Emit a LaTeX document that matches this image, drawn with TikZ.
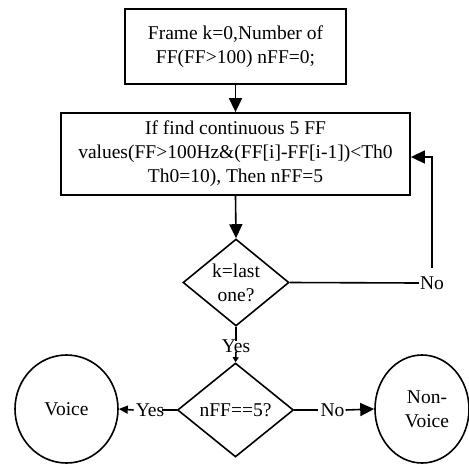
\documentclass[tikz,border=0pt]{standalone}
\usepackage{fontspec}
\setmainfont{Liberation Serif}
\usetikzlibrary{shapes.geometric,arrows.meta}
\begin{document}
\begin{tikzpicture}[x=1pt,y=-1pt,
  txt/.style={font=\fontsize{19.5}{24}\selectfont, align=center, inner sep=0pt},
  boxstyle/.style={draw, line width=1.8pt, inner sep=0pt},
  dia/.style={draw, diamond, line width=1.6pt, inner sep=0pt},
  circ/.style={draw, ellipse, line width=1.6pt, inner sep=0pt},
  conn/.style={line width=1.6pt},
  big/.style={conn, -{Triangle[length=14pt,width=13pt]}},
  small/.style={conn, -{Triangle[length=9pt,width=8pt]}},
  tiny/.style={conn, -{Triangle[length=5pt,width=6pt]}}]
\useasboundingbox (0,0) rectangle (469,464);
\node[boxstyle, minimum width=221pt, minimum height=75pt] (box1) at (235.5,46.5) {};
\node[txt] (t1) at (box1) {Frame k=0,Number of\\FF(FF>100) nFF=0;};
\node[boxstyle, minimum width=349pt, minimum height=82pt] (box2) at (235.5,154) {};
\node[txt] (t2) at (box2) {If find continuous 5 FF\\values(FF>100Hz\&(FF[i]-FF[i-1])<Th0\\Th0=10), Then nFF=5};
\node[dia, minimum width=106pt, minimum height=87pt] (d1) at (236,282.5) {};
\node[txt] (t3) at (d1) {k=last\\one?};
\node[txt] (no1) at (432,283) {No};
\node[txt] (yes1) at (236,346) {Yes};
\node[dia, minimum width=116pt, minimum height=94pt] (d2) at (235.5,410) {};
\node[txt] (t4) at (d2) {nFF==5?};
\node[txt] (yes2) at (150,410) {Yes};
\node[txt] (no2) at (332.5,410) {No};
\node[circ, minimum width=103pt, minimum height=108pt] (voice) at (66.5,409) {};
\node[txt] (t5) at (voice) {Voice};
\node[circ, minimum width=94pt, minimum height=108pt] (nonvoice) at (422,409) {};
\node[txt] (t6) at (427,409) {Non-\\Voice};
\draw[big] (box1.south) -- (box2.north);
\draw[big] (box2.south) -- (d1.north);
\draw[conn] (d1.east) -- ([xshift=-1pt]no1.west);
\draw[big] ([yshift=8pt]no1.north) |- ([yshift=-3pt]box2.east);
\draw[conn] (d1.south) -- ([yshift=-2pt]yes1.north);
\draw[tiny] ([yshift=1pt]yes1.south) -- (d2.north);
\draw[conn] (d2.west) -- ([xshift=-2pt]yes2.east);
\draw[small] ([xshift=-2pt]yes2.west) -- (voice.east);
\draw[conn] (d2.east) -- ([xshift=-2pt]no2.west);
\draw[big] ([xshift=1pt]no2.east) -- (nonvoice.west);
\end{tikzpicture}
\end{document}
